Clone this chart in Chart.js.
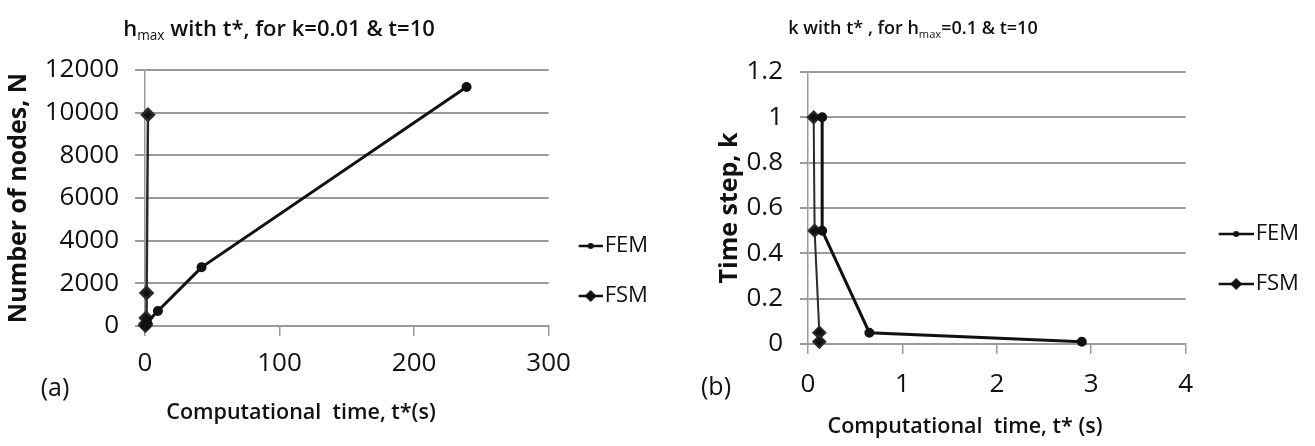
<!DOCTYPE html>
<html>
<head>
<meta charset="utf-8">
<script src="https://cdn.jsdelivr.net/npm/chart.js@4.4.1/dist/chart.umd.min.js"></script>
<style>
    body { margin: 0; background: #fff; width: 1315px; height: 446px; overflow: hidden; position: relative; font-family: 'Open Sans', sans-serif; color: #111; }
    canvas { position: absolute; top: 0; }
    #chartA { left: 0; }
    #chartB { left: 660px; }
    .lbl { position: absolute; white-space: nowrap; font-weight: 600; transform: translate(-50%, -50%); }
    .lbl sub { font-size: 62%; font-weight: 400; vertical-align: -0.3em; }
</style>
</head>
<body>
<canvas id="chartA" width="660" height="472"></canvas>
<canvas id="chartB" width="655" height="446"></canvas>

<div class="lbl" style="left:279px; top:28px; font-size:22px;">h<sub>max</sub> with t*, for k=0.01 &amp; t=10</div>
<div class="lbl" style="left:913px; top:28px; font-size:18px;">k with t* , for h<sub>max</sub>=0.1 &amp; t=10</div>
<div class="lbl" style="left:301px; top:410px; font-size:21.5px;">Computational&nbsp; time, t*(s)</div>
<div class="lbl" style="left:965px; top:424px; font-size:21.5px;">Computational&nbsp; time, t* (s)</div>
<div class="lbl" style="left:55px; top:386px; font-size:25px; font-weight:400;">(a)</div>
<div class="lbl" style="left:716px; top:385px; font-size:25px; font-weight:400;">(b)</div>

<script>
// (a) number of nodes vs computational time, k=0.01
const nodeTicks = [0, 2000, 4000, 6000, 8000, 10000, 12000];
const timeTicksA = [0, 100, 200, 300];
const femTimeA = [0.3, 1.5, 9.6, 42, 239];
const femNodes = [45, 180, 700, 2750, 11200];
const fsmTimeA = [0.3, 0.5, 0.8, 1.2, 2.2];
const fsmNodes = [25, 100, 380, 1550, 9900];

// (b) time step vs computational time, hmax=0.1
const stepTicks = [0, 0.2, 0.4, 0.6, 0.8, 1, 1.2];
const timeTicksB = [0, 1, 2, 3, 4];
const femTimeB = [0.15, 0.15, 0.65, 2.9];
const femStep = [1, 0.5, 0.05, 0.01];
const fsmTimeB = [0.06, 0.07, 0.12, 0.12];
const fsmStep = [1, 0.5, 0.05, 0.01];

const seriesNames = ['FEM', 'FSM'];
const ink = '#111';
const gridGray = '#9a9a9a';

function toPoints(xs, ys) {
    return xs.map((x, i) => ({ x: x, y: ys[i] }));
}

// line + marker icon for the legend, visible part sits at the right end
function legendIcon(marker, lineLen, pad) {
    const c = document.createElement('canvas');
    c.width = lineLen + pad;
    c.height = 16;
    const g = c.getContext('2d');
    g.strokeStyle = ink;
    g.fillStyle = ink;
    g.lineWidth = 2.5;
    g.beginPath();
    g.moveTo(pad, 8);
    g.lineTo(pad + lineLen, 8);
    g.stroke();
    const cx = pad + lineLen / 2;
    g.beginPath();
    if (marker === 'rectRot') {
        g.moveTo(cx, 2); g.lineTo(cx + 6, 8); g.lineTo(cx, 14); g.lineTo(cx - 6, 8);
    } else {
        g.arc(cx, 8, 3, 0, Math.PI * 2);
    }
    g.closePath();
    g.fill();
    return c;
}

function makeChart(id, cfg) {
    const icons = [
        legendIcon('circle', cfg.iconLen, cfg.iconPad),
        legendIcon('rectRot', cfg.iconLen, cfg.iconPad)
    ];
    return new Chart(document.getElementById(id), {
        type: 'scatter',
        data: {
            datasets: [
                {
                    label: seriesNames[0],
                    data: cfg.fem,
                    showLine: true,
                    borderColor: ink,
                    backgroundColor: ink,
                    borderWidth: 3,
                    pointStyle: 'circle',
                    pointRadius: 3.5,
                    clip: false
                },
                {
                    label: seriesNames[1],
                    data: cfg.fsm,
                    showLine: true,
                    borderColor: '#2a2a2a',
                    backgroundColor: ink,
                    borderWidth: cfg.fsmWidth,
                    pointStyle: 'rectRot',
                    pointRadius: 6,
                    clip: false
                }
            ]
        },
        options: {
            responsive: false,
            animation: false,
            layout: { padding: { top: cfg.top, right: cfg.padRight, left: 0, bottom: 0 } },
            plugins: {
                tooltip: { enabled: false },
                legend: {
                    position: 'right',
                    labels: {
                        usePointStyle: true,
                        pointStyleWidth: cfg.boxW,
                        padding: 28,
                        color: ink,
                        font: { family: 'Open Sans', size: 22 },
                        generateLabels: chart => {
                            const items = Chart.defaults.plugins.legend.labels.generateLabels(chart);
                            items.forEach((it, i) => { it.pointStyle = icons[i]; });
                            return items;
                        }
                    }
                }
            },
            scales: {
                x: {
                    type: 'linear',
                    min: cfg.xTicks[0],
                    max: cfg.xTicks[cfg.xTicks.length - 1],
                    afterBuildTicks: s => { s.ticks = cfg.xTicks.map(v => ({ value: v })); },
                    afterFit: s => { s.height = cfg.xHeight; },
                    grid: { drawOnChartArea: false, drawTicks: true, tickLength: 10, color: gridGray, lineWidth: 1.5 },
                    border: { color: gridGray, width: 2 },
                    ticks: { color: ink, padding: cfg.xPad, maxRotation: 0, font: { family: 'Open Sans', size: 26 }, callback: v => String(v) }
                },
                y: {
                    type: 'linear',
                    min: cfg.yTicks[0],
                    max: cfg.yTicks[cfg.yTicks.length - 1],
                    afterBuildTicks: s => { s.ticks = cfg.yTicks.map(v => ({ value: v })); },
                    afterFit: s => { s.width = cfg.yWidth; },
                    grid: { color: gridGray, lineWidth: 2, tickLength: cfg.tick },
                    border: { color: gridGray, width: 1.5 },
                    ticks: { color: ink, padding: cfg.yPad, font: { family: 'Open Sans', size: 26 }, callback: v => String(v) },
                    title: {
                        display: true,
                        text: cfg.yTitle,
                        color: ink,
                        padding: { top: cfg.yTitlePad, bottom: 0 },
                        font: { family: 'Open Sans', size: 25, weight: 'bold' }
                    }
                }
            }
        }
    });
}

makeChart('chartA', {
    fem: toPoints(femTimeA, femNodes),
    fsm: toPoints(fsmTimeA, fsmNodes),
    xTicks: timeTicksA,
    yTicks: nodeTicks,
    yTitle: 'Number of nodes, N',
    top: 70, padRight: 2, xHeight: 146, yWidth: 145,
    tick: 10, xPad: 12, yPad: 16, yTitlePad: 4,
    boxW: 17, iconLen: 24, iconPad: 11, fsmWidth: 2.5
});

makeChart('chartB', {
    fem: toPoints(femTimeB, femStep),
    fsm: toPoints(fsmTimeB, fsmStep),
    xTicks: timeTicksB,
    yTicks: stepTicks,
    yTitle: 'Time step, k',
    top: 72, padRight: 6, xHeight: 102, yWidth: 148,
    tick: 8, xPad: 15, yPad: 17, yTitlePad: 55,
    boxW: 31, iconLen: 35, iconPad: 14, fsmWidth: 2
});
</script>
</body>
</html>
